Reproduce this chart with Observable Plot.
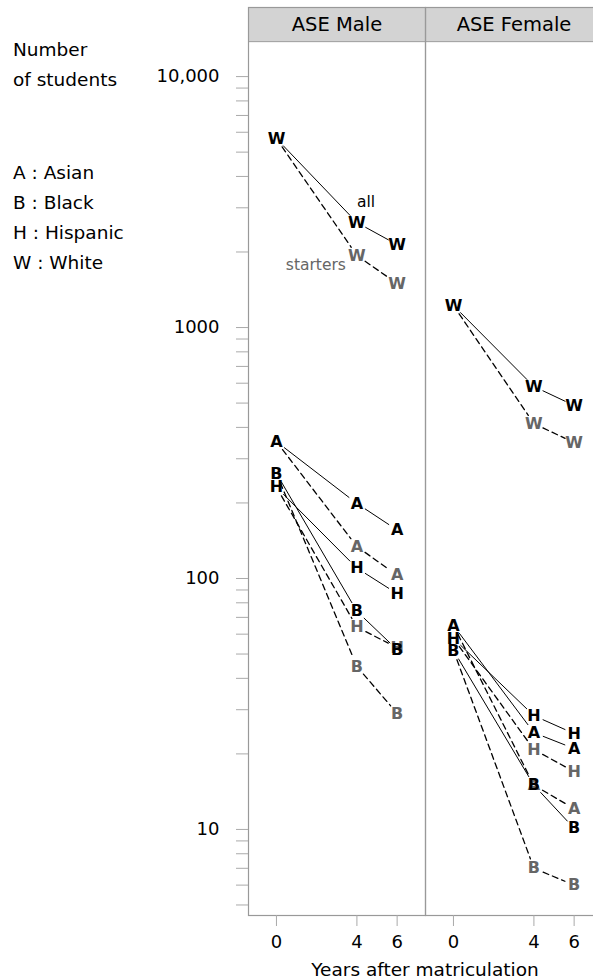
<!DOCTYPE html>
<html><head><meta charset="utf-8">
<script src="https://cdn.jsdelivr.net/npm/d3@7"></script>
<script src="https://cdn.jsdelivr.net/npm/@observablehq/plot@0.6"></script>
<style>
html,body{margin:0;padding:0;overflow:hidden;background:#fff;}
#chart{position:relative;width:593px;height:980px;overflow:hidden;}
#chart svg{max-width:none !important;width:602px;height:980px;}
</style></head><body><div id="chart"></div>
<script>
const panels = ["ASE Male", "ASE Female"];
const years = [0, 4, 6];
const groups = ["A", "B", "H", "W"];
const groupNames = ["Asian", "Black", "Hispanic", "White"];
// rows follow groups: A, B, H, W ; columns follow years 0, 4, 6
const maleAll        = [[351, 199, 156], [262, 74, 52], [231, 110, 87], [5660, 2620, 2140]];
const maleStarters   = [[351, 134, 103], [262, 44.6, 29], [231, 64, 53], [5660, 1936, 1497]];
const femaleAll      = [[65, 24.3, 21.0], [51.7, 15.0, 10.1], [57.7, 28.4, 24.1], [1224, 582, 489]];
const femaleStarters = [[65, 15.0, 12.1], [51.7, 7.0, 6.0], [57.7, 20.8, 17.0], [1224, 414, 348]];
const yTicks = [5, 6, 7, 8, 9, 10, 20, 30, 40, 50, 60, 70, 80, 90, 100, 200, 300, 400, 500, 600, 700, 800, 900,
  1000, 2000, 3000, 4000, 5000, 6000, 7000, 8000, 9000, 10000];
const yLabelTicks = [10, 100, 1000, 10000];
const yLabelText = ["10", "100", "1000", "10,000"];
const xTicks = [0, 4, 6];
const annotText = ["all", "starters"];
const annotYear = [4, 4];
const annotValue = [3150, 1780];
const xDomain = [-1.39, 7.41];
const yDomain = [4.54, 18850];
const headerBottom = 13780;

const font = "'DejaVu Sans', sans-serif";
const series = [
  {panel: panels[0], type: "all", rows: maleAll},
  {panel: panels[0], type: "starters", rows: maleStarters},
  {panel: panels[1], type: "all", rows: femaleAll},
  {panel: panels[1], type: "starters", rows: femaleStarters}
];
const points = [], segs = [];
for (const s of series) {
  s.rows.forEach((row, gi) => {
    row.forEach((v, yi) => {
      points.push({panel: s.panel, type: s.type, group: groups[gi], year: years[yi], value: v});
      if (yi > 0) segs.push({panel: s.panel, type: s.type, group: groups[gi],
        x1: years[yi - 1], y1: row[yi - 1], x2: years[yi], y2: v});
    });
  });
}
const annots = annotText.map((t, i) => ({panel: panels[0], text: t, year: annotYear[i], value: annotValue[i], type: i === 0 ? "all" : "starters"}));

const chart = Plot.plot({
  width: 602, height: 980,
  marginTop: 7, marginBottom: 65, marginLeft: 248, marginRight: 0,
  style: {fontFamily: font, fontSize: "18px", background: "white", color: "#000", overflow: "visible"},
  fx: {domain: panels, padding: 0, axis: null},
  x: {domain: xDomain},
  y: {type: "log", domain: yDomain},
  marks: [
    Plot.rect(panels, {fx: d => d, y1: headerBottom, y2: yDomain[1], fill: "#d3d3d3"}),
    Plot.ruleY([headerBottom], {stroke: "#999", strokeWidth: 1}),
    Plot.frame({stroke: "#999", strokeWidth: 1.2}),
    Plot.text(panels, {fx: d => d, text: d => d, y: Math.sqrt(headerBottom * yDomain[1]), fontSize: 19.5, fill: "#000"}),
    Plot.axisY({ticks: yTicks, tickFormat: d => { const i = yLabelTicks.indexOf(d); return i >= 0 ? yLabelText[i] : ""; },
      tickSize: 12, tickPadding: 17, fontSize: 18, stroke: "#aaa", fill: "#000", label: null}),
    Plot.axisX({ticks: xTicks, tickSize: 11, tickPadding: 9, fontSize: 18, stroke: "#aaa", fill: "#000", label: null}),
    Plot.arrow(segs.filter(d => d.type === "starters"), {fx: "panel", x1: "x1", y1: "y1", x2: "x2", y2: "y2",
      headLength: 0, insetStart: 10, insetEnd: 10, stroke: "#000", strokeWidth: 1.3, strokeDasharray: "6,4"}),
    Plot.arrow(segs.filter(d => d.type === "all"), {fx: "panel", x1: "x1", y1: "y1", x2: "x2", y2: "y2",
      headLength: 0, insetStart: 10, insetEnd: 10, stroke: "#000", strokeWidth: 1}),
    Plot.text(points.filter(d => d.type === "starters" && d.year > 0), {fx: "panel", x: "year", y: "value", text: "group",
      fontWeight: "bold", fontSize: 16, fill: "#666"}),
    Plot.text(points.filter(d => d.type === "all"), {fx: "panel", x: "year", y: "value", text: "group",
      fontWeight: "bold", fontSize: 16, fill: "#000"}),
    Plot.text(annots.filter(d => d.type === "all"), {fx: "panel", x: "year", y: "value", text: "text", fontSize: 15.5,
      textAnchor: "start", dx: 0, fill: "#000"}),
    Plot.text(annots.filter(d => d.type === "starters"), {fx: "panel", x: "year", y: "value", text: "text", fontSize: 15.5,
      textAnchor: "end", dx: -11, fill: "#666"})
  ]
});
document.getElementById("chart").appendChild(chart);

const svg = d3.select(chart);
// left legend and x-axis label as real text
const legendLines = [["Number", 56], ["of students", 86]].concat(groups.map((g, i) => [g + " : " + groupNames[i], 179 + 30 * i]));
for (const [t, yb] of legendLines) {
  svg.append("text").attr("x", 13).attr("y", yb).attr("text-anchor", "start").attr("font-family", font)
    .attr("font-size", 18.5).attr("fill", "#000").text(t);
}
svg.append("text").attr("x", 425).attr("y", 976).attr("text-anchor", "middle").attr("font-family", font)
  .attr("font-size", 18.5).attr("fill", "#000").text("Years after matriculation");
</script></body></html>
